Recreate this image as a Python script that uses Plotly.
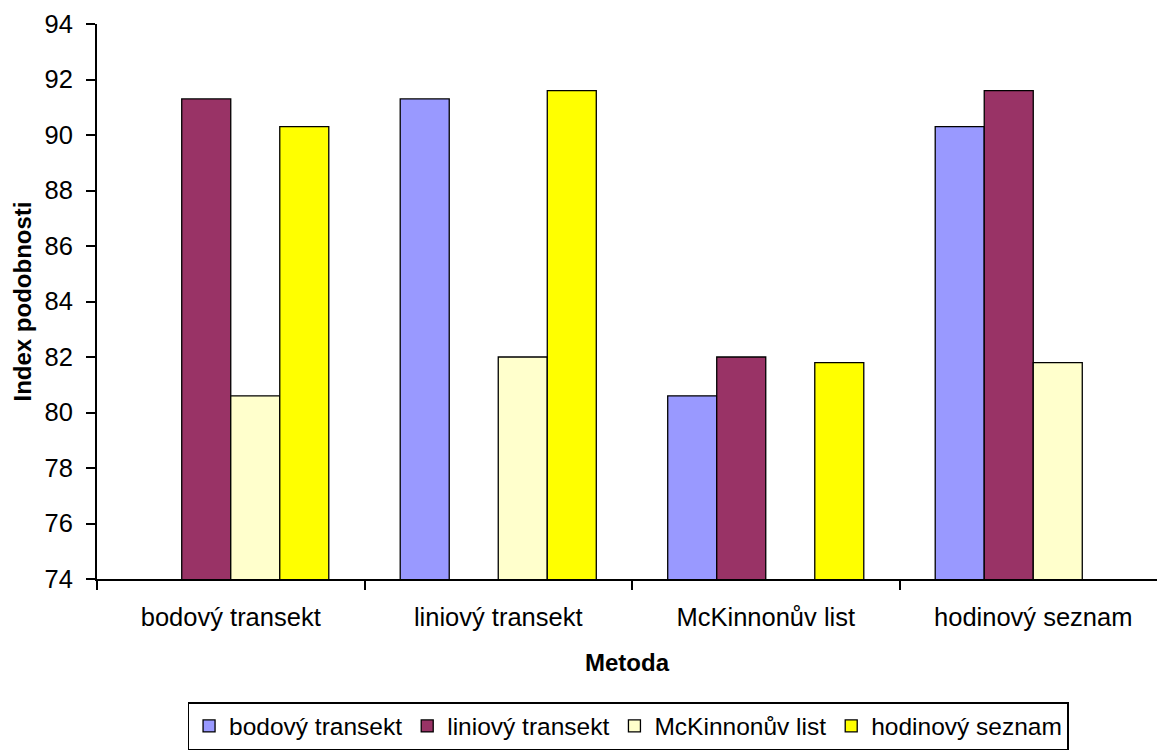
import plotly.graph_objects as go

# Metody sběru dat (kategorie na ose x)
categories = ["bodový transekt", "liniový transekt", "McKinnonův list", "hodinový seznam"]

# Index podobnosti každé metody vůči ostatním (srovnání se sebou samou chybí)
bodovy_transekt = [None, 91.3, 80.6, 90.3]
liniovy_transekt = [91.3, None, 82.0, 91.6]
mckinnonuv_list = [80.6, 82.0, None, 81.8]
hodinovy_seznam = [90.3, 91.6, 81.8, None]

y_ticks = [74, 76, 78, 80, 82, 84, 86, 88, 90, 92, 94]

series = [
    ("bodový transekt", bodovy_transekt, "#9999FF"),
    ("liniový transekt", liniovy_transekt, "#993366"),
    ("McKinnonův list", mckinnonuv_list, "#FFFFCC"),
    ("hodinový seznam", hodinovy_seznam, "#FFFF00"),
]

FONT = "Liberation Sans, Arial, sans-serif"
TICK_SIZE = 25.5

fig = go.Figure()
for name, values, color in series:
    fig.add_trace(go.Bar(
        name=name,
        x=categories,
        y=values,
        marker=dict(color=color, line=dict(color="black", width=1.3)),
    ))

W, H = 1157, 751
L, T, B, R = 97, 24, 172, 0
cat_px = 267.5
plot_w = W - L - R
plot_h = H - T - B

fig.update_layout(
    width=W, height=H,
    margin=dict(l=L, r=R, t=T, b=B, pad=0, autoexpand=False),
    paper_bgcolor="white",
    plot_bgcolor="white",
    barmode="group",
    bargap=0.267,
    bargroupgap=0,
    font=dict(family=FONT, size=24, color="black"),
    showlegend=True,
    legend=dict(
        orientation="h",
        x=0.501, xanchor="center",
        y=-(750 - (H - B)) / plot_h, yanchor="bottom",
        bordercolor="black", borderwidth=1.5,
        bgcolor="white",
        font=dict(family=FONT, size=24.5, color="black"),
        tracegroupgap=0,
    ),
    xaxis=dict(
        type="category",
        range=[-0.5, -0.5 + plot_w / cat_px],
        showline=True, linecolor="black", linewidth=2,
        ticks="outside", tickson="boundaries", ticklen=9, tickwidth=1.5, tickcolor="black",
        ticklabelstandoff=14,
        showgrid=False, zeroline=False,
        tickfont=dict(family=FONT, size=TICK_SIZE, color="black"),
        title=dict(text="<b>Metoda</b>", font=dict(family=FONT, size=24, color="black"), standoff=25),
    ),
    yaxis=dict(
        range=[74, 94],
        tickvals=y_ticks,
        showline=True, linecolor="black", linewidth=2,
        ticks="outside", ticklen=9, tickwidth=1.5, tickcolor="black",
        ticklabelstandoff=8,
        showgrid=False, zeroline=False,
        tickfont=dict(family=FONT, size=TICK_SIZE, color="black"),
        title=dict(text="<b>Index podobnosti</b>", font=dict(family=FONT, size=24, color="black"), standoff=6),
    ),
)

fig.write_html("out.html")
